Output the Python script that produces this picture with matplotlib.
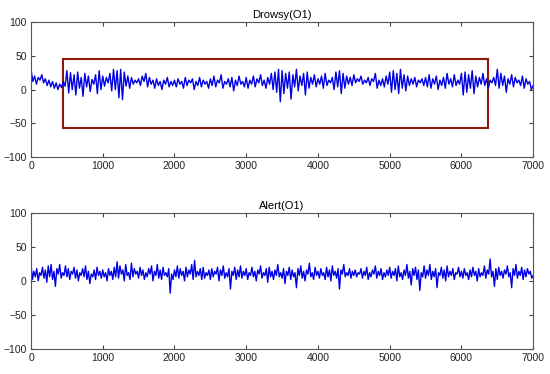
import numpy as np
import matplotlib.pyplot as plt
from matplotlib.patches import Rectangle

plt.rcParams['font.family'] = ['Liberation Sans', 'DejaVu Sans']

# EEG samples (uV), one value every STEP samples
drowsy_step = 25
drowsy = [
    30, 12, 20, 8, 18, 14, 22, 10, 16, 6, 14, 4, 12, 2, 10, 0, 8, 3, 12, 5,
    28, -5, 25, 0, 22, -8, 26, 2, 18, -10, 24, 4, 20, -3, 15, 8, 22, -6, 28, 0,
    20, 5, 18, 10, 24, -2, 30, 0, 28, -12, 30, -15, 26, 5, 20, 2, 18, 8, 14, 10,
    16, 6, 20, 12, 24, 4, 18, 8, 14, 2, 16, 6, 12, 0, 14, 8, 18, 4, 12, 6,
    14, 4, 16, 8, 12, 2, 18, 6, 14, 10, 16, 0, 12, 6, 18, 4, 14, 8, 12, 2,
    16, 6, 20, 4, 14, 10, 22, 2, 12, 8, 16, 4, 18, -2, 14, 6, 20, 8, 12, 4,
    18, 2, 14, 8, 20, 4, 16, 10, 22, 6, 14, 2, 18, 8, 24, 0, 26, -4, 30, -18,
    28, -6, 24, 2, 26, -14, 22, 4, 30, -2, 20, 6, 24, -8, 26, 2, 18, 8, 22, 4,
    16, 8, 20, 2, 24, 6, 14, 10, 18, 0, 26, 4, 28, -6, 24, 2, 20, 8, 18, 6,
    22, 10, 16, 12, 20, 8, 14, 10, 18, 6, 16, 12, 24, 2, 14, 6, 16, 4, 20, 8,
    26, -4, 28, 0, 24, -6, 30, 2, 22, -2, 20, 6, 16, 8, 18, 4, 14, 10, 16, 6,
    18, 4, 22, 2, 16, 8, 20, 0, 14, 6, 18, 2, 24, 8, 16, 4, 22, 6, 14, 8,
    24, -8, 26, -4, 22, 2, 28, -6, 20, 4, 18, 8, 24, 6, 16, 2, 14, 10, 18, 6,
    30, 2, 24, 6, 20, -4, 16, 8, 22, 4, 18, 10, 14, 6, 20, 2, 16, 8, 12, 0,
    6,
]

alert_step = 20
alert = [
    25, 2, 14, 6, 18, 0, 12, 8, 20, 4, 16, -2, 22, 6, 24, 2, 14, -8, 18, 10, 24, 4, 12, 8, 22,
    6, 18, 2, 14, 10, 20, 4, 16, 0, 12, 8, 18, 6, 22, 2, 14, -4, 10, 6, 16, 2, 20, 8, 14, 4,
    16, 6, 12, 0, 18, 8, 14, 2, 20, 6, 28, 4, 22, 10, 16, 0, 24, 8, 12, 2, 26, 6, 18, 10, 14,
    4, 20, 8, 16, 2, 12, 6, 18, 10, 22, 0, 14, 8, 24, 4, 16, 2, 20, 8, 12, 6, 18, -18, 10, 2,
    16, 6, 22, 4, 18, 8, 14, 0, 20, 6, 16, 10, 24, 2, 30, 6, 14, 8, 18, 2, 20, 4, 12, 8, 16,
    2, 18, 6, 14, 10, 20, 0, 16, 8, 22, 4, 12, 6, 18, -12, 14, 8, 20, 2, 16, 6, 22, 4, 14, 8,
    18, 2, 12, 8, 20, 6, 14, 0, 16, 10, 22, 4, 12, 8, 18, -2, 20, 6, 14, 2, 16, 8, 24, 6, 12,
    4, 18, -4, 14, 8, 20, 2, 16, 6, 12, -10, 18, 8, 22, 4, 14, 0, 16, 10, 26, 6, 12, 2, 20, 8,
    14, 4, 18, 8, 12, 2, 20, 6, 16, 0, 22, 8, 14, 4, 18, -12, 16, 10, 24, 6, 12, 8, 18, 4, 14,
    8, 16, 6, 12, 10, 18, 4, 14, 8, 20, 2, 12, 6, 16, 10, 22, 4, 14, 8, 18, 2, 12, 6, 16, 8,
    20, 4, 14, 8, 18, 0, 22, 6, 12, 2, 16, 8, 24, 4, 14, -6, 18, 8, 20, 2, 16, -14, 12, 6, 22,
    4, 16, 8, 24, 2, 14, 6, 18, -10, 12, 8, 20, 4, 16, 0, 22, 6, 14, 8, 18, 2, 12, 10, 20, 6,
    14, 4, 18, 8, 12, 2, 16, 6, 20, 8, 14, 0, 18, 6, 12, 8, 22, 4, 16, 10, 32, 6, 14, -8, 18,
    2, 20, 8, 14, 4, 16, 10, 22, 6, 12, -10, 18, 8, 24, 4, 14, 8, 20, 2, 16, 6, 18, 10, 14, 4,
    8,
]

titles = ["Drowsy(O1)", "Alert(O1)"]
box_x = [450, 6370]
box_y = [-57, 45]

fig = plt.figure(figsize=(5.5, 3.74), dpi=100)
ax1 = fig.add_axes([0.0564, 0.580, 0.913, 0.361])
ax2 = fig.add_axes([0.0564, 0.067, 0.913, 0.364])

series = [(drowsy, drowsy_step), (alert, alert_step)]
for ax, (vals, step), title in zip([ax1, ax2], series, titles):
    t = np.arange(len(vals)) * step
    ax.plot(t, vals, color='#0000e6', linewidth=1.0)
    ax.set_xlim(0, 7000)
    ax.set_ylim(-100, 100)
    ax.set_xticks(np.arange(0, 7001, 1000))
    ax.set_yticks([-100, -50, 0, 50, 100])
    ax.tick_params(direction='in', top=True, right=True, length=3,
                   labelsize=7.5, color='#444444', labelcolor='#222222', pad=3)
    for s in ax.spines.values():
        s.set_color('#555555')
        s.set_linewidth(0.8)
    ax.set_title(title, fontsize=8, pad=3)

ax1.add_patch(Rectangle((box_x[0], box_y[0]), box_x[1] - box_x[0], box_y[1] - box_y[0],
                        fill=False, edgecolor='#8b1a0a', linewidth=1.5))

fig.savefig('out.png', dpi=100)
